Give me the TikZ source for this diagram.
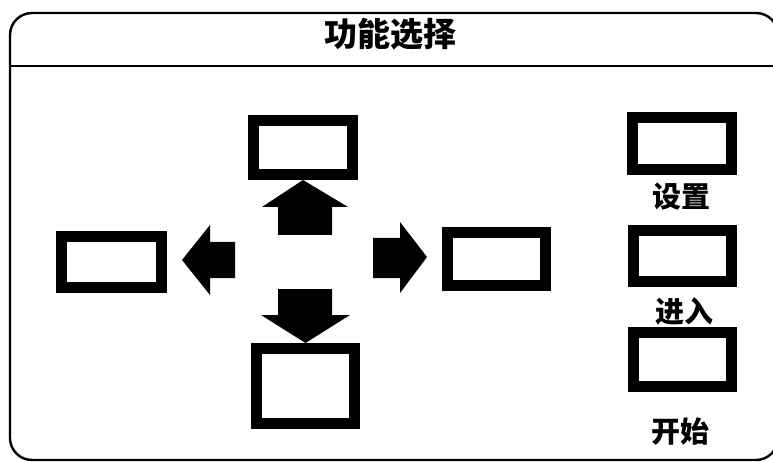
\documentclass[tikz,border=0pt]{standalone}
\usepackage{fontspec}
\newfontfamily\cjk{Noto Sans CJK SC}
\begin{document}
\begin{tikzpicture}[x=1pt,y=-1pt,
  box/.style={draw=black,fill=white,line width=11pt,rectangle,inner sep=0pt},
  blockarrow/.style={fill=black},
  lbl/.style={font=\cjk\bfseries\fontsize{29}{29}\selectfont,inner sep=0pt},
  frame/.style={line width=2.4pt,draw=black}]
\useasboundingbox (0,0) rectangle (773,462);
% outer frame and header (right edge lies just outside the picture)
\begin{scope}
\clip (0,0) rectangle (773,462);
\draw[frame,rounded corners=22pt] (10,13) rectangle (778,460);
\draw[frame] (10,66) -- (778,66);
\end{scope}
\node[font=\cjk\bfseries\fontsize{33}{33}\selectfont,inner sep=0pt] (title) at (390,34) {功能选择};
% central boxes (outer size minus line width)
\node[box,minimum width=99pt,minimum height=54pt] (up) at (303,147.5) {};
\node[box,minimum width=100pt,minimum height=51pt] (left) at (111.5,262) {};
\node[box,minimum width=98pt,minimum height=53pt] (right) at (496.5,259) {};
\node[box,minimum width=98pt,minimum height=75pt] (down) at (305.5,386) {};
% block arrows
\fill[blockarrow] (up.south) -- (348,207) -- (332,207) -- (332,235) -- (278,235) -- (278,207) -- (262,207) -- cycle;
\fill[blockarrow] (left.east) ++(15,-2) coordinate (ltip) -- (210,225) -- (210,242) -- (235,242) -- (235,278) -- (210,278) -- (210,295) -- cycle;
\fill[blockarrow] (373,238) -- (400,238) -- (400,222) -- (427,257) -- (400,293) -- (400,278) -- (373,278) -- cycle;
\fill[blockarrow] (down.north) -- (261,315) -- (278,315) -- (278,289) -- (332,289) -- (332,315) -- (350,315) -- cycle;
% right column
\node[box,minimum width=99pt,minimum height=52pt] (set) at (682,143.5) {};
\node[lbl] (setl) at (681,197) {设置};
\node[box,minimum width=98pt,minimum height=51pt] (enter) at (682.5,256) {};
\node[lbl] (enterl) at (684,312) {进入};
\node[box,minimum width=98pt,minimum height=54pt] (start) at (682.5,359.5) {};
\node[lbl] (startl) at (680,432) {开始};
\end{tikzpicture}
\end{document}
